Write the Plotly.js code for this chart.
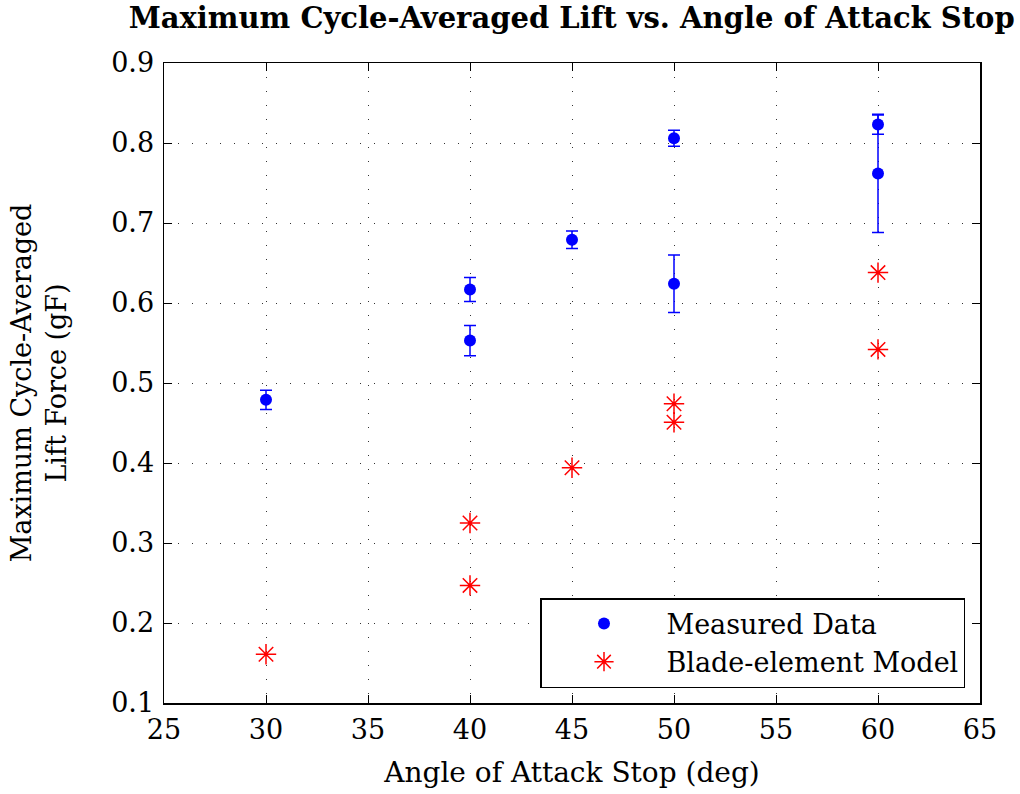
<!DOCTYPE html>
<html>
<head>
<meta charset="utf-8">
<script src="https://cdn.plot.ly/plotly-3.0.1.min.js"></script>
<style>html,body{margin:0;padding:0;background:#fff;}#chart{width:1020px;height:794px;}</style>
</head>
<body>
<div id="chart"></div>
<script>
const measuredX = [30, 40, 40, 45, 50, 50, 60, 60];
const measuredY = [0.479, 0.617, 0.553, 0.679, 0.806, 0.624, 0.823, 0.762];
const measuredErr = [0.012, 0.015, 0.019, 0.011, 0.010, 0.036, 0.012, 0.074];
const modelX = [30, 40, 40, 45, 50, 50, 60, 60];
const modelY = [0.161, 0.325, 0.247, 0.394, 0.474, 0.451, 0.638, 0.542];
const xTicks = [25, 30, 35, 40, 45, 50, 55, 60, 65];
const yTicks = [0.1, 0.2, 0.3, 0.4, 0.5, 0.6, 0.7, 0.8, 0.9];

const FONT = 'DejaVu Serif, Liberation Serif, serif';

const traces = [
  {
    x: measuredX, y: measuredY, type: 'scatter', mode: 'markers',
    name: 'Measured Data',
    marker: {color: '#0000ff', size: 12, symbol: 'circle'},
    error_y: {type: 'data', array: measuredErr, visible: true, color: '#0000ff', thickness: 1.5, width: 6}
  },
  {
    x: modelX, y: modelY, type: 'scatter', mode: 'markers',
    name: 'Blade-element Model',
    marker: {color: '#ff0000', size: 17, symbol: 'asterisk-open', line: {color: '#ff0000', width: 1.5}}
  }
];

const axisCommon = {
  showline: true, linecolor: '#000', linewidth: 1.5, mirror: 'ticks',
  ticks: 'inside', ticklen: 8, tickwidth: 1, tickcolor: '#000',
  showgrid: true, gridcolor: '#333', gridwidth: 1, griddash: '1px,13px',
  zeroline: false, tickfont: {family: FONT, size: 27, color: '#000'}
};

const layout = {
  width: 1020, height: 794,
  margin: {l: 164, r: 40, t: 63, b: 91},
  paper_bgcolor: '#fff', plot_bgcolor: '#fff',
  title: {text: '<b>Maximum Cycle-Averaged Lift vs. Angle of Attack Stop</b>', font: {family: FONT, size: 29, color: '#000'}, x: 0.5605, xanchor: 'center', y: 0.977, yanchor: 'middle'},
  xaxis: Object.assign({}, axisCommon, {
    range: [25, 65], tickvals: xTicks, ticktext: xTicks.map(String),
    ticklabelstandoff: 2,
    title: {text: 'Angle of Attack Stop (deg)', font: {family: FONT, size: 28, color: '#000'}, standoff: 18}
  }),
  yaxis: Object.assign({}, axisCommon, {
    range: [0.1, 0.9], tickvals: yTicks, ticktext: yTicks.map(v => v.toFixed(1)),
    ticklabelstandoff: 3,
    title: {text: 'Maximum Cycle-Averaged<br>Lift Force (gF)', font: {family: FONT, size: 27, color: '#000'}, standoff: 36}
  }),
  showlegend: true,
  legend: {
    x: (965 - 164) / 816, xanchor: 'right', y: (703 - 688) / 640, yanchor: 'bottom',
    bgcolor: '#fff', bordercolor: '#000', borderwidth: 1.5,
    font: {family: FONT, size: 27, color: '#000'}, itemwidth: 115, tracegroupgap: 0
  }
};

Plotly.newPlot('chart', traces, layout, {displayModeBar: false, staticPlot: true});
</script>
</body>
</html>
